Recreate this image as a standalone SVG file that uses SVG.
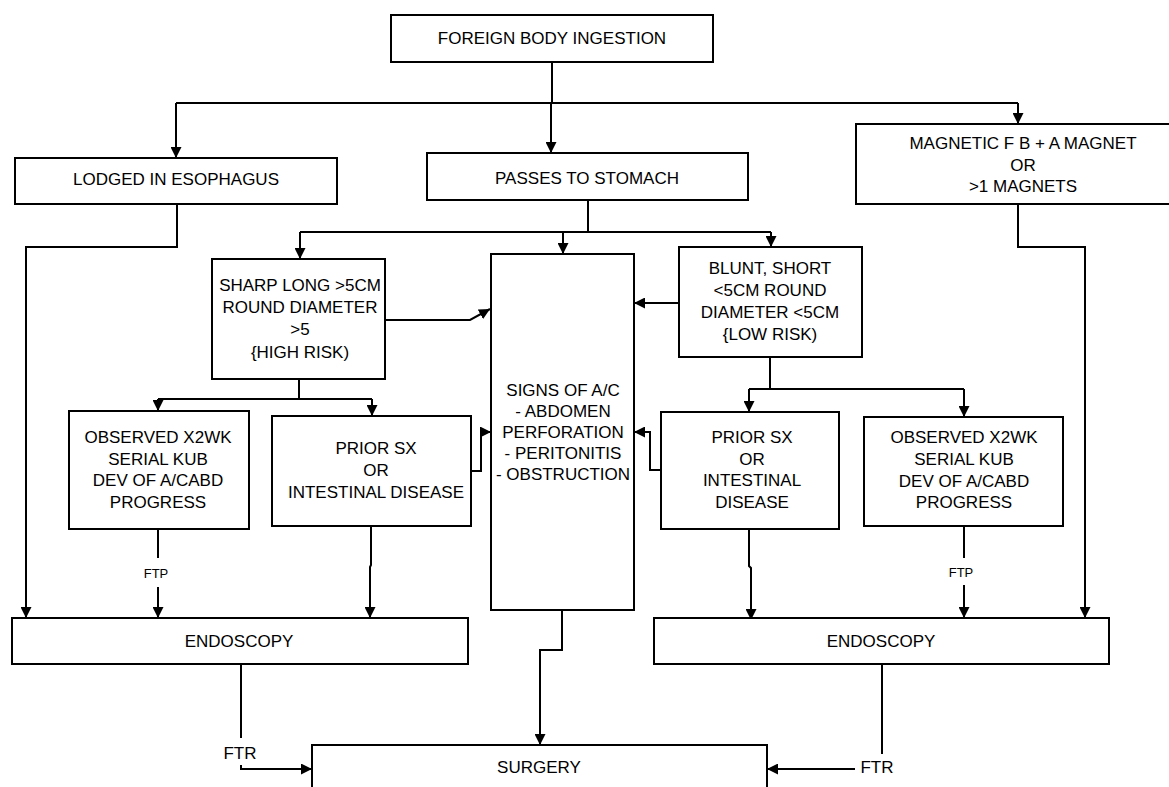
<svg xmlns="http://www.w3.org/2000/svg" width="1169" height="787" viewBox="0 0 1169 787">
<defs>
<style>
.box{fill:#fff;stroke:#000;stroke-width:2}
.t{font-family:"Liberation Sans",Arial,sans-serif;font-size:17px;fill:#000;text-anchor:middle}
.s{font-family:"Liberation Sans",Arial,sans-serif;font-size:13px;fill:#000;text-anchor:middle}
.c{fill:none;stroke:#000;stroke-width:2}
.a{marker-end:url(#ah)}
</style>
<marker id="ah" viewBox="0 0 10 10" refX="10" refY="5" markerWidth="11" markerHeight="11" markerUnits="userSpaceOnUse" orient="auto"><path d="M0,0 L10,5 L0,10 z" fill="#000"/></marker>
</defs>
<rect width="1169" height="787" fill="#fff"/>
<g id="connectors">
<path class="c" d="M552,62 V103 M176,103 H1018"/>
<path class="c a" d="M176,103 V158"/>
<path class="c a" d="M551,103 V153"/>
<path class="c a" d="M1018,103 V124"/>
<path class="c a" d="M177,204 V247 H26 V618"/>
<path class="c" d="M588,200 V232 M300,232 H771"/>
<path class="c a" d="M300,232 V259"/>
<path class="c a" d="M563,232 V254"/>
<path class="c a" d="M771,232 V247"/>
<path class="c a" d="M385,320 H470 L490,309"/>
<path class="c a" d="M679,303 H634"/>
<path class="c" d="M299,379 V399 M158,399 H372"/>
<path class="c a" d="M158,399 V411"/>
<path class="c a" d="M372,399 V416"/>
<path class="c" d="M770,357 V389 M749,389 H964"/>
<path class="c a" d="M749,389 V412"/>
<path class="c a" d="M964,389 V417"/>
<path class="c a" d="M471,471 H481 V432 H491"/>
<path class="c a" d="M661,470 H650 V432 H634"/>
<path class="c" d="M158,529 V558"/>
<path class="c a" d="M158,587 V618"/>
<path class="c a" d="M371,526 V565 L370,567 V618"/>
<path class="c a" d="M749,529 V566 L751,568 V620"/>
<path class="c" d="M964,526 V558"/>
<path class="c a" d="M964,585 V618"/>
<path class="c a" d="M1018,204 V247 H1085 V618"/>
<path class="c a" d="M562,610 V650 H540 V745"/>
<path class="c" d="M241,664 V738"/>
<path class="c a" d="M241,765 V769 H312"/>
<path class="c" d="M882,664 V754"/>
<path class="c a" d="M855,769 H767"/>
<text class="s" x="156" y="578">FTP</text>
<text class="s" x="961" y="577">FTP</text>
<text class="t" x="240" y="759">FTR</text>
<text class="t" x="877" y="773">FTR</text>
</g>
<g id="foreign">
<rect class="box" x="391" y="15" width="322" height="47"/>
<text class="t" x="552" y="44">FOREIGN BODY INGESTION</text>
</g>
<g id="lodged">
<rect class="box" x="15" y="158" width="322" height="46"/>
<text class="t" x="176" y="185">LODGED IN ESOPHAGUS</text>
</g>
<g id="passes">
<rect class="box" x="427" y="153" width="321" height="47"/>
<text class="t" x="587" y="184">PASSES TO STOMACH</text>
</g>
<g id="magnetic">
<rect class="box" x="856" y="124" width="340" height="80"/>
<text class="t" x="1023" y="149">MAGNETIC F B + A MAGNET</text>
<text class="t" x="1023" y="171">OR</text>
<text class="t" x="1023" y="192">&gt;1 MAGNETS</text>
</g>
<g id="sharp">
<rect class="box" x="212" y="259" width="173" height="120"/>
<text class="t" x="300" y="291">SHARP LONG &gt;5CM</text>
<text class="t" x="300" y="313">ROUND DIAMETER</text>
<text class="t" x="300" y="335">&gt;5</text>
<text class="t" x="300" y="358">{HIGH RISK)</text>
</g>
<g id="signs">
<rect class="box" x="491" y="254" width="143" height="356"/>
<text class="t" x="563" y="396">SIGNS OF A/C</text>
<text class="t" x="563" y="417">- ABDOMEN</text>
<text class="t" x="563" y="438">PERFORATION</text>
<text class="t" x="563" y="459">- PERITONITIS</text>
<text class="t" x="563" y="480">- OBSTRUCTION</text>
</g>
<g id="blunt">
<rect class="box" x="679" y="247" width="183" height="110"/>
<text class="t" x="770" y="274">BLUNT, SHORT</text>
<text class="t" x="770" y="296">&lt;5CM ROUND</text>
<text class="t" x="770" y="318">DIAMETER &lt;5CM</text>
<text class="t" x="770" y="340">{LOW RISK)</text>
</g>
<g id="observed-left">
<rect class="box" x="69" y="411" width="180" height="118"/>
<text class="t" x="158" y="443">OBSERVED X2WK</text>
<text class="t" x="158" y="465">SERIAL KUB</text>
<text class="t" x="158" y="486">DEV OF A/CABD</text>
<text class="t" x="158" y="508">PROGRESS</text>
</g>
<g id="prior-left">
<rect class="box" x="272" y="416" width="199" height="110"/>
<text class="t" x="376" y="454">PRIOR SX</text>
<text class="t" x="376" y="476">OR</text>
<text class="t" x="376" y="498">INTESTINAL DISEASE</text>
</g>
<g id="prior-right">
<rect class="box" x="661" y="412" width="178" height="117"/>
<text class="t" x="752" y="443">PRIOR SX</text>
<text class="t" x="752" y="465">OR</text>
<text class="t" x="752" y="486">INTESTINAL</text>
<text class="t" x="752" y="508">DISEASE</text>
</g>
<g id="observed-right">
<rect class="box" x="864" y="417" width="199" height="109"/>
<text class="t" x="964" y="443">OBSERVED X2WK</text>
<text class="t" x="964" y="465">SERIAL KUB</text>
<text class="t" x="964" y="487">DEV OF A/CABD</text>
<text class="t" x="964" y="508">PROGRESS</text>
</g>
<g id="endoscopy-left">
<rect class="box" x="12" y="618" width="456" height="46"/>
<text class="t" x="239" y="647">ENDOSCOPY</text>
</g>
<g id="endoscopy-right">
<rect class="box" x="654" y="618" width="455" height="46"/>
<text class="t" x="881" y="647">ENDOSCOPY</text>
</g>
<g id="surgery">
<rect class="box" x="312" y="745" width="455" height="60"/>
<text class="t" x="539" y="773">SURGERY</text>
</g>
</svg>
